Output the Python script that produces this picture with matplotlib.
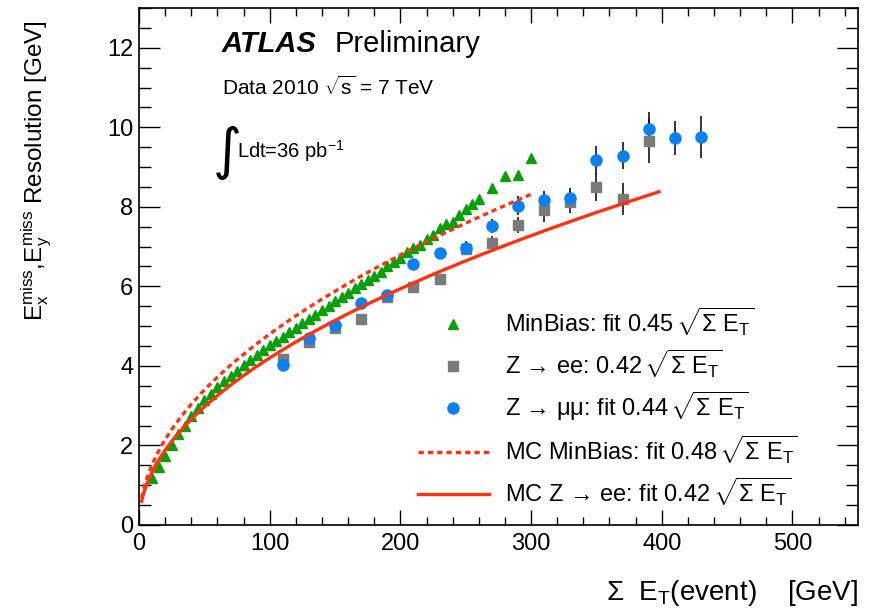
"""MET resolution versus total transverse energy, ATLAS 2010 style."""

import numpy as np
import matplotlib
matplotlib.use("Agg")
import matplotlib.pyplot as plt
from matplotlib.ticker import MultipleLocator

# Fonts ----------------------------------------------------------------------
plt.rcParams["font.family"] = ["Liberation Sans", "DejaVu Sans"]
plt.rcParams["mathtext.fontset"] = "custom"
plt.rcParams["mathtext.rm"] = "Liberation Sans"
plt.rcParams["mathtext.it"] = "Liberation Sans:italic"
plt.rcParams["mathtext.bf"] = "Liberation Sans:bold"
plt.rcParams["mathtext.default"] = "regular"

# Data -----------------------------------------------------------------------
minbias_x = [10, 15, 20, 25, 30, 35, 40, 45, 50, 55, 60, 65, 70, 75, 80, 85,
             90, 95, 100, 105, 110, 115, 120, 125, 130, 135, 140, 145, 150,
             155, 160, 165, 170, 175, 180, 185, 190, 195, 200, 205, 210, 215,
             220, 225, 230, 235, 240, 245, 250, 255, 260, 270, 280, 290, 300]
minbias_y = [1.17, 1.45, 1.74, 2.02, 2.28, 2.50, 2.74, 2.95, 3.14, 3.30, 3.46,
             3.61, 3.75, 3.88, 4.01, 4.14, 4.27, 4.40, 4.53, 4.63, 4.73, 4.84,
             4.95, 5.07, 5.18, 5.29, 5.40, 5.51, 5.62, 5.73, 5.84, 5.95, 6.05,
             6.15, 6.26, 6.37, 6.50, 6.62, 6.72, 6.86, 6.97, 7.04, 7.18, 7.30,
             7.46, 7.58, 7.62, 7.79, 7.95, 8.08, 8.20, 8.48, 8.78, 8.81, 9.23]

zee_x = [110, 130, 150, 170, 190, 210, 230, 250, 270, 290, 310, 330, 350, 370, 390]
zee_y = [4.18, 4.60, 4.96, 5.18, 5.74, 5.99, 6.19, 6.94, 7.09, 7.55, 7.92,
         8.13, 8.50, 8.20, 9.66]
zee_err = [0.08, 0.08, 0.09, 0.10, 0.10, 0.11, 0.12, 0.15, 0.18, 0.20, 0.30,
           0.28, 0.35, 0.40, 0.55]

zmm_x = [110, 130, 150, 170, 190, 210, 230, 250, 270, 290, 310, 330, 350,
         370, 390, 410, 430]
zmm_y = [4.03, 4.70, 5.03, 5.58, 5.79, 6.57, 6.84, 6.97, 7.52, 8.03, 8.18,
         8.23, 9.18, 9.28, 9.96, 9.74, 9.76]
zmm_err = [0.08, 0.08, 0.08, 0.10, 0.10, 0.12, 0.12, 0.17, 0.18, 0.23, 0.23,
           0.25, 0.35, 0.34, 0.43, 0.43, 0.52]

# fit coefficients from the legend, and fit ranges
mc_minbias_k, mc_minbias_range = 0.48, (2, 300)
mc_zee_k, mc_zee_range = 0.42, (2, 398)

GREEN = "#0b9e0b"
GREY = "#7a7a7a"
BLUE = "#0a80f5"
RED = "#ff3311"

SQ = r"$\,\sqrt{\Sigma\ E_T}$"

# Canvas ---------------------------------------------------------------------
fig = plt.figure(figsize=(8.69, 6.14), dpi=100)
ax = fig.add_axes([0.160, 0.145, 0.827, 0.842])

ax.errorbar(zee_x, zee_y, yerr=zee_err, fmt="none", ecolor="black",
            elinewidth=1.1, capsize=0, zorder=2)
ax.errorbar(zmm_x, zmm_y, yerr=zmm_err, fmt="none", ecolor="black",
            elinewidth=1.1, capsize=0, zorder=2)

ax.plot(minbias_x, minbias_y, ls="none", marker="^", ms=7.5, color=GREEN,
        mec=GREEN, label="MinBias: fit 0.45" + SQ, zorder=3)
ax.plot(zee_x, zee_y, ls="none", marker="s", ms=7.2, color=GREY, mec=GREY,
        label="Z → ee: 0.42" + SQ, zorder=3)
ax.plot(zmm_x, zmm_y, ls="none", marker="o", ms=8, color=BLUE, mec=BLUE,
        label="Z → μμ: fit 0.44" + SQ, zorder=4)

xs = np.linspace(*mc_minbias_range, 300)
ax.plot(xs, mc_minbias_k * np.sqrt(xs), color=RED, lw=2.4,
        ls=(0, (1.6, 1.2)), label="MC MinBias: fit 0.48" + SQ, zorder=5)
xs = np.linspace(*mc_zee_range, 300)
ax.plot(xs, mc_zee_k * np.sqrt(xs), color=RED, lw=2.4,
        label="MC Z → ee: fit 0.42" + SQ, zorder=5)

# Axes -----------------------------------------------------------------------
ax.set_xlim(0, 550)
ax.set_ylim(0, 13)
ax.xaxis.set_major_locator(MultipleLocator(100))
ax.xaxis.set_minor_locator(MultipleLocator(20))
ax.yaxis.set_major_locator(MultipleLocator(2))
ax.yaxis.set_minor_locator(MultipleLocator(0.5))
ax.tick_params(which="both", direction="in", top=True, right=True,
               labelsize=17, width=1.0)
ax.tick_params(axis="x", which="major", length=10.8, pad=6)
ax.tick_params(axis="x", which="minor", length=5.8)
ax.tick_params(axis="y", which="major", length=15, pad=4)
ax.tick_params(axis="y", which="minor", length=8.5)
for sp in ax.spines.values():
    sp.set_linewidth(1.2)

ax.set_xlabel(r"$\Sigma$  $E_T$(event)    [GeV]", fontsize=20, loc="right")
ax.xaxis.set_label_coords(1.0, -0.103)
ax.set_ylabel(r"$E_x^{miss}$,$E_y^{miss}$ Resolution [GeV]", fontsize=17.5,
              loc="top")
ax.yaxis.set_label_coords(-0.118, 0.977)

# Annotations ----------------------------------------------------------------
ax.text(0.115, 0.915, "ATLAS", transform=ax.transAxes, fontsize=21,
        fontweight="bold", fontstyle="italic", va="baseline")
ax.text(0.2726, 0.915, "Preliminary", transform=ax.transAxes, fontsize=21,
        va="baseline")
ax.text(0.115, 0.832, r"Data 2010 $\sqrt{s}$ = 7 TeV", transform=ax.transAxes,
        fontsize=15, va="baseline")
ax.text(0.102, 0.690, "∫", transform=ax.transAxes, fontsize=40,
        family="DejaVu Sans", va="baseline")
ax.text(0.136, 0.710, r"Ldt=36 pb$^{-1}$", transform=ax.transAxes,
        fontsize=14.5, va="baseline")

leg = ax.legend(loc="upper left", bbox_to_anchor=(0.388, 0.425),
                frameon=False, fontsize=17, handlelength=3.0,
                handletextpad=0.7, labelspacing=0.42, borderaxespad=0,
                borderpad=0)

fig.savefig("out.png", dpi=100)
plt.close(fig)
